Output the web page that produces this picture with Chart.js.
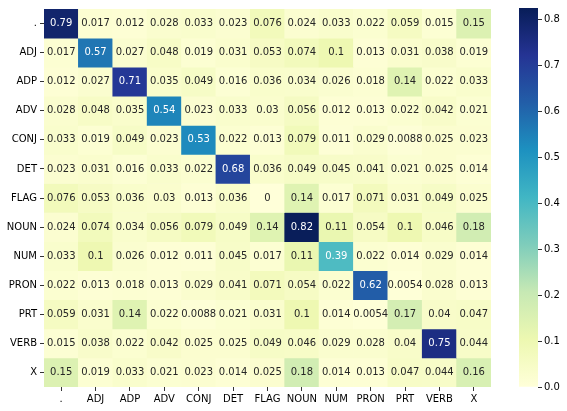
<!DOCTYPE html>
<html>
<head>
<meta charset="utf-8">
<script src="https://cdn.jsdelivr.net/npm/chart.js@4"></script>
<style>
    body { margin: 0; background: #fff; }
    #wrap { position: relative; width: 567px; height: 411px; }
    #wrap canvas { position: absolute; top: 0; }
</style>
</head>
<body>
<div id="wrap">
    <canvas id="heat" width="567" height="411" style="left:0"></canvas>
    <canvas id="bar" width="67" height="411" style="left:500px"></canvas>
</div>
<script>
/* ============================================= */
/*                    Data                       */
/* ============================================= */

const tags = ['.', 'ADJ', 'ADP', 'ADV', 'CONJ', 'DET', 'FLAG', 'NOUN', 'NUM', 'PRON', 'PRT', 'VERB', 'X'];

// one row per tag, columns in the same order
const rates = [
    [0.79, 0.017, 0.012, 0.028, 0.033, 0.023, 0.076, 0.024, 0.033, 0.022, 0.059, 0.015, 0.15],
    [0.017, 0.57, 0.027, 0.048, 0.019, 0.031, 0.053, 0.074, 0.1, 0.013, 0.031, 0.038, 0.019],
    [0.012, 0.027, 0.71, 0.035, 0.049, 0.016, 0.036, 0.034, 0.026, 0.018, 0.14, 0.022, 0.033],
    [0.028, 0.048, 0.035, 0.54, 0.023, 0.033, 0.03, 0.056, 0.012, 0.013, 0.022, 0.042, 0.021],
    [0.033, 0.019, 0.049, 0.023, 0.53, 0.022, 0.013, 0.079, 0.011, 0.029, 0.0088, 0.025, 0.023],
    [0.023, 0.031, 0.016, 0.033, 0.022, 0.68, 0.036, 0.049, 0.045, 0.041, 0.021, 0.025, 0.014],
    [0.076, 0.053, 0.036, 0.03, 0.013, 0.036, 0, 0.14, 0.017, 0.071, 0.031, 0.049, 0.025],
    [0.024, 0.074, 0.034, 0.056, 0.079, 0.049, 0.14, 0.82, 0.11, 0.054, 0.1, 0.046, 0.18],
    [0.033, 0.1, 0.026, 0.012, 0.011, 0.045, 0.017, 0.11, 0.39, 0.022, 0.014, 0.029, 0.014],
    [0.022, 0.013, 0.018, 0.013, 0.029, 0.041, 0.071, 0.054, 0.022, 0.62, 0.0054, 0.028, 0.013],
    [0.059, 0.031, 0.14, 0.022, 0.0088, 0.021, 0.031, 0.1, 0.014, 0.0054, 0.17, 0.04, 0.047],
    [0.015, 0.038, 0.022, 0.042, 0.025, 0.025, 0.049, 0.046, 0.029, 0.028, 0.04, 0.75, 0.044],
    [0.15, 0.019, 0.033, 0.021, 0.023, 0.014, 0.025, 0.18, 0.014, 0.013, 0.047, 0.044, 0.16]
];

// top of the colour scale
const scaleMax = 0.824;
const barTicks = [0, 0.1, 0.2, 0.3, 0.4, 0.5, 0.6, 0.7, 0.8];

/* ============================================= */
/*                  Colormap                     */
/* ============================================= */

const ylGnBu = [
    [255, 255, 217], [237, 248, 177], [199, 233, 180],
    [127, 205, 187], [65, 182, 196], [29, 145, 192],
    [34, 94, 168], [37, 52, 148], [8, 29, 88]
];

function rgbAt(v) {
    let t = Math.max(0, Math.min(1, v / scaleMax)) * (ylGnBu.length - 1);
    let i = Math.min(Math.floor(t), ylGnBu.length - 2);
    let f = t - i;
    return ylGnBu[i].map((c, k) => Math.round(c + (ylGnBu[i + 1][k] - c) * f));
}

function colour(v) {
    const c = rgbAt(v);
    return `rgb(${c[0]}, ${c[1]}, ${c[2]})`;
}

// seaborn style: light text on dark cells
function textColour(v) {
    const lin = rgbAt(v).map(c => {
        c = c / 255;
        return c <= 0.03928 ? c / 12.92 : Math.pow((c + 0.055) / 1.055, 2.4);
    });
    const lum = 0.2126 * lin[0] + 0.7152 * lin[1] + 0.0722 * lin[2];
    return lum > 0.42 ? '#262626' : '#ffffff';
}

const font = { family: "'DejaVu Sans', sans-serif", size: 10 };

/* ============================================= */
/*                  Heatmap                      */
/* ============================================= */

const cellText = {
    id: 'cellText',
    afterDatasetsDraw(chart) {
        const ctx = chart.ctx;
        ctx.save();
        ctx.font = `10px ${font.family}`;
        ctx.textAlign = 'center';
        ctx.textBaseline = 'middle';
        chart.data.datasets.forEach((ds, i) => {
            const meta = chart.getDatasetMeta(i);
            meta.data.forEach((el, j) => {
                const v = rates[i][j];
                ctx.fillStyle = textColour(v);
                ctx.fillText(String(Number(v.toPrecision(2))), el.x, (el.y + el.base) / 2);
            });
        });
        ctx.restore();
    }
};

const heatData = {
    labels: tags,
    datasets: rates.map((row, i) => ({
        data: row.map((v, j) => [i, i + 1]),
        backgroundColor: row.map(colour),
        borderWidth: 0,
        grouped: false,
        barPercentage: 1,
        categoryPercentage: 1
    }))
};

let heatChart = new Chart(document.getElementById('heat'), {
    type: 'bar',
    data: heatData,
    options: {
        responsive: false,
        animation: false,
        layout: { padding: { left: 0, top: 6, right: 76, bottom: 0 } },
        plugins: { legend: { display: false }, tooltip: { enabled: false } },
        scales: {
            x: {
                grid: { display: true, drawOnChartArea: false, offset: false, tickLength: 4, color: '#333' },
                border: { display: false },
                ticks: { font: font, color: '#000', padding: 2, autoSkip: false, maxRotation: 0 },
                afterFit: s => { s.height = 24; }
            },
            y: {
                min: 0,
                max: tags.length,
                reverse: true,
                grid: { display: true, drawOnChartArea: false, tickLength: 4, color: '#333' },
                border: { display: false },
                afterBuildTicks: s => { s.ticks = tags.map((t, i) => ({ value: i + 0.5 })); },
                ticks: { font: font, color: '#000', padding: 3, autoSkip: false, callback: (v, i) => tags[i] },
                afterFit: s => { s.width = 44; }
            }
        }
    },
    plugins: [cellText]
});

/* ============================================= */
/*                  Colourbar                    */
/* ============================================= */

function barGradient(context) {
    const area = context.chart.chartArea;
    if (!area) return colour(0);
    const y0 = context.chart.scales.y.getPixelForValue(0);
    const y1 = context.chart.scales.y.getPixelForValue(scaleMax);
    const g = context.chart.ctx.createLinearGradient(0, y0, 0, y1);
    ylGnBu.forEach((c, k) => g.addColorStop(k / (ylGnBu.length - 1), `rgb(${c[0]}, ${c[1]}, ${c[2]})`));
    return g;
}

let barChart = new Chart(document.getElementById('bar'), {
    type: 'bar',
    data: {
        labels: [''],
        datasets: [{
            data: [[0, scaleMax]],
            backgroundColor: barGradient,
            borderWidth: 0,
            barPercentage: 1,
            categoryPercentage: 1
        }]
    },
    options: {
        responsive: false,
        animation: false,
        layout: { padding: { left: 19, top: 5, right: 0, bottom: 24 } },
        plugins: { legend: { display: false }, tooltip: { enabled: false } },
        scales: {
            x: { display: false },
            y: {
                position: 'right',
                min: 0,
                max: scaleMax,
                grid: { display: true, drawOnChartArea: false, tickLength: 4, color: '#333' },
                border: { display: false },
                afterBuildTicks: s => { s.ticks = barTicks.map(v => ({ value: v })); },
                ticks: { font: font, color: '#000', padding: 2, callback: v => v.toFixed(1) },
                afterFit: s => { s.width = 29; }
            }
        }
    }
});
</script>
</body>
</html>
